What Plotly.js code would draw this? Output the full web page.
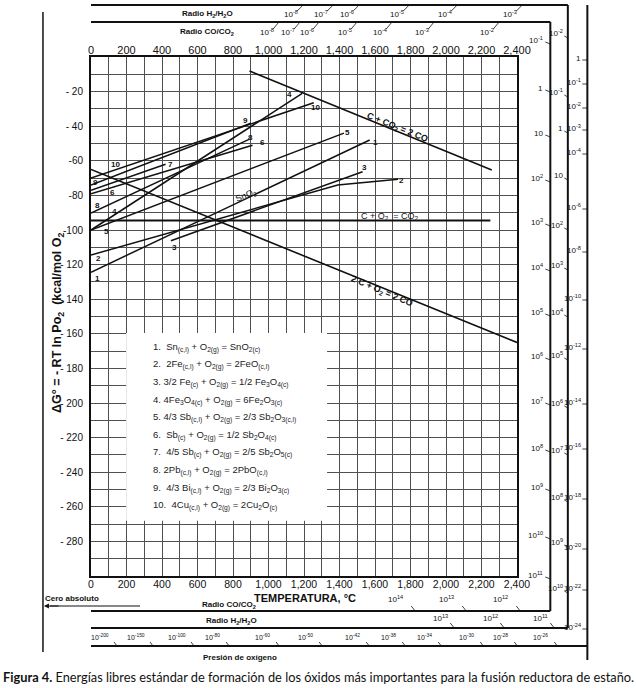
<!DOCTYPE html>
<html>
<head>
<meta charset="utf-8">
<script src="https://cdn.plot.ly/plotly-3.0.1.min.js"></script>
<style>html,body{margin:0;padding:0;background:#fff;}#chart{width:636px;height:688px;}</style>
</head>
<body>
<div id="chart"></div>
<script>
// ---------- DATA (temperature °C, ΔG° kcal/mol O2) ----------
const rxn1T = [0, 1570],        rxn1G = [-124.4, -48];
const rxn2T = [0, 1390, 1730],  rxn2G = [-114.5, -74, -70.7];
const rxn3T = [450, 1530],      rxn3G = [-106.2, -66.3];
const rxn4T = [0, 1190],        rxn4G = [-100, -21];
const rxn5T = [0, 1425],        rxn5G = [-100, -44];
const rxn6T = [0, 910],         rxn6G = [-79, -51];
const rxn7T = [0, 420],         rxn7G = [-77, -62];
const rxn8T = [0, 890],         rxn8G = [-90.2, -47.6];
const rxn9T = [0, 900],         rxn9G = [-74, -38.3];
const rxn10T = [0, 1255],       rxn10G = [-70, -26.4];
const boudT = [893, 2258],      boudG = [-8.1, -65.3];     // C + CO2 = 2 CO
const co2T = [0, 2250],         co2G = [-94.5, -94.5];     // C + O2 = CO2
const coT = [0, 2400],          coG = [-65, -165];         // 2C + O2 = 2 CO

const yTickVals = [-20,-40,-60,-80,-100,-120,-140,-160,-180,-200,-220,-240,-260,-280];
const yTickText = ['- 20','- 40','-60','-80','-100','- 120','- 140','- 160','- 180','- 200','- 220','- 240','- 260','- 280'];

const legendRows = [
 '1.  Sn<sub>(c,l)</sub> + O<sub>2(g)</sub> = SnO<sub>2(c)</sub>',
 '2.  2Fe<sub>(c,l)</sub> + O<sub>2(g)</sub> = 2FeO<sub>(c,l)</sub>',
 '3. 3/2 Fe<sub>(c)</sub> + O<sub>2(g)</sub> = 1/2 Fe<sub>3</sub>O<sub>4(c)</sub>',
 '4. 4Fe<sub>3</sub>O<sub>4(c)</sub> + O<sub>2(g)</sub> = 6Fe<sub>2</sub>O<sub>3(c)</sub>',
 '5. 4/3 Sb<sub>(c,l)</sub> + O<sub>2(g)</sub> = 2/3 Sb<sub>2</sub>O<sub>3(c,l)</sub>',
 '6.  Sb<sub>(c)</sub> + O<sub>2(g)</sub> = 1/2 Sb<sub>2</sub>O<sub>4(c)</sub>',
 '7.  4/5 Sb<sub>(c)</sub> + O<sub>2(g)</sub> = 2/5 Sb<sub>2</sub>O<sub>5(c)</sub>',
 '8. 2Pb<sub>(c,l)</sub> + O<sub>2(g)</sub> = 2PbO<sub>(c,l)</sub>',
 '9.  4/3 Bi<sub>(c,l)</sub> + O<sub>2(g)</sub> = 2/3 Bi<sub>2</sub>O<sub>3(c)</sub>',
 '10.  4Cu<sub>(c,l)</sub> + O<sub>2(g)</sub> = 2Cu<sub>2</sub>O<sub>(c)</sub>'
];

const sup = e => '10<sup>' + e + '</sup>';
const h2TopLabels   = ['-8','-7','-6','-5','-4','-3'].map(sup);
const coTopLabels   = ['-8','-7','-6','-5','-4','-3','-2'].map(sup);
const coRightLabels = [sup('-1'),'1','10',sup('2'),sup('3'),sup('4'),sup('5'),sup('6'),sup('7'),sup('8'),sup('9'),sup('10'),sup('11')];
const h2RightLabels = [sup('-2'),sup('-1'),'1','10',sup('2'),sup('3'),sup('4'),sup('5'),sup('6'),sup('7'),sup('8'),sup('9'),sup('10')];
const o2RightLabels = ['1',sup('-1'),sup('-2'),sup('-3'),sup('-4'),sup('-6'),sup('-8'),sup('-10'),sup('-12'),sup('-14'),sup('-16'),sup('-18'),sup('-20'),sup('-22'),sup('-24')];
const coBotLabels   = [sup('14'),sup('13'),sup('12')];
const h2BotLabels   = [sup('13'),sup('12'),sup('11')];
const o2BotLabels   = ['-200','-150','-100','-80','-60','-50','-42','-38','-34','-30','-28','-26'].map(sup);

// ---------- LAYOUT POSITIONS (pixels) ----------
const PL = 91, PR = 516.7, PT = 57, PB = 576;
const px = x => (x - PL) / (PR - PL);
const py = y => (PB - y) / (PB - PT);
const FONT = 'Liberation Sans, Arial, sans-serif';

const h2TopX = [291, 321, 347, 397, 445, 510];
const coTopX = [267, 288, 307, 345, 380, 422, 487];
const coRightY = [40, 88, 133, 178, 222, 267, 312, 356, 401, 448, 487, 535, 575];
const h2RightY = [33, 92, 128, 175, 225, 265, 312, 355, 403, 450, 497, 542, 588];
const o2RightY = [58, 82, 106, 128, 152, 207, 250, 298, 347, 402, 447, 497, 547, 588, 627];
const coBotX = [395, 446, 500];
const h2BotX = [440, 490, 540];
const o2BotX = [100, 136, 177, 212, 262, 305, 352, 388, 424, 466, 500, 540];

const annotations = [];
const shapes = [];
function ann(x, y, text, o) {
  annotations.push(Object.assign({xref:'paper', yref:'paper', x:px(x), y:py(y), text:text, showarrow:false,
    xanchor:'center', yanchor:'middle', font:{family:FONT, size:8, color:'#111'}}, o || {}));
}
function seg(x0, y0, x1, y1, w, c) {
  shapes.push({type:'line', xref:'paper', yref:'paper', x0:px(x0), y0:py(y0), x1:px(x1), y1:py(y1),
    line:{color:c || '#111', width:w || 1}});
}

// frame scale lines
seg(43, 12, 43, 652, 1.5);
seg(91, 5, 567.5, 5, 2); seg(567.5, 5, 567.5, 628, 2); seg(91, 628, 567.5, 628, 2);
seg(91, 22, 550, 22, 2); seg(550, 22, 550, 611, 2); seg(91, 611, 550, 611, 2);
seg(587, 5, 587, 660, 2); seg(91, 646, 587, 646, 2);

// scale labels
ann(207, 14, '<b>Radio H<sub>2</sub>/H<sub>2</sub>O</b>');
ann(207, 32, '<b>Radio CO/CO<sub>2</sub></b>');
h2TopLabels.forEach((t, i) => { ann(h2TopX[i], 14, t); seg(h2TopX[i] + 6, 11, h2TopX[i] + 11, 6, 0.8); });
coTopLabels.forEach((t, i) => { ann(coTopX[i], 32, t); seg(coTopX[i] + 6, 29, coTopX[i] + 11, 23, 0.8); });
coRightLabels.forEach((t, i) => { ann(545, coRightY[i], t, {xanchor:'right'}); seg(545, coRightY[i] + 2, 550, coRightY[i] + 4, 0.8); });
h2RightLabels.forEach((t, i) => { ann(565, h2RightY[i], t, {xanchor:'right'}); seg(564, h2RightY[i] + 3, 567.5, h2RightY[i] + 5, 0.8); });
o2RightLabels.forEach((t, i) => { ann(583, o2RightY[i], t, {xanchor:'right'}); seg(582, o2RightY[i] + 2, 587, o2RightY[i] + 2, 0.8); });
ann(229, 605, '<b>Radio CO/CO<sub>2</sub></b>');
ann(231, 621, '<b>Radio H<sub>2</sub>/H<sub>2</sub>O</b>');
coBotLabels.forEach((t, i) => { ann(coBotX[i], 599, t); seg(coBotX[i] + 16, 606, coBotX[i] + 20, 611, 0.8); });
h2BotLabels.forEach((t, i) => { ann(h2BotX[i], 618, t); seg(h2BotX[i] + 10, 623, h2BotX[i] + 14, 628, 0.8); });
o2BotLabels.forEach((t, i) => { ann(o2BotX[i], 637, t, {font:{family:FONT, size:7, color:'#111'}}); seg(o2BotX[i] + 14, 642, o2BotX[i] + 17, 646, 0.8); });
ann(240, 657, '<b>Presión de oxígeno</b>');
ann(305, 598, '<b>TEMPERATURA, °C</b>', {font:{family:FONT, size:11, color:'#111'}});
ann(72, 598, '<b>Cero absoluto</b>');
seg(140, 606, 50, 606, 1);
annotations.push({xref:'paper', yref:'paper', x:px(44), y:py(606), ax:px(60), ay:py(606), axref:'paper', ayref:'paper',
  text:'', showarrow:true, arrowhead:2, arrowsize:1, arrowwidth:1, arrowcolor:'#111'});

// y title
ann(58, 322, '<b>ΔG° = - RT ln Po<sub>2</sub>  (kcal/mol O<sub>2</sub></b>', {textangle:-90, font:{family:FONT, size:12.5, color:'#111'}});

// reaction number labels
const numLabels = [
  ['1',375,142],['2',401,181],['3',364,168],['4',289,94],['5',347,132],['6',262,142],['7',170,164],['8',250,137],['9',245,120],['10',315,107],
  ['10',115,164],['9',95,182],['6',112,192],['8',97,205],['4',114,211],['5',106,232],['2',98,258],['1',97,278],['3',174,247]
];
numLabels.forEach(l => ann(l[1], l[2], '<b>' + l[0] + '</b>', {font:{family:FONT, size:8, color:'#111'}}));

// line labels
ann(397, 127, '<b>C + CO<sub>2</sub> = 2 CO</b>', {textangle:22, font:{family:FONT, size:9, color:'#111'}});
ann(390, 216, 'C + O<sub>2</sub>  = CO<sub>2</sub>', {font:{family:FONT, size:9, color:'#111'}});
ann(382, 291, '<b>2 C + O<sub>2</sub> = 2 CO</b>', {textangle:23, font:{family:FONT, size:9, color:'#111'}});
ann(246, 195, 'SnO<sub>2</sub>', {textangle:-22, font:{family:FONT, size:9, color:'#111'}});

// legend rows
legendRows.forEach((t, i) => ann(151, 347.3 + i * 17.6, t, {xanchor:'left', font:{family:FONT, size:9.5, color:'#222'}}));

// caption
annotations.push({xref:'paper', yref:'paper', x:px(318), y:py(677), xanchor:'center', yanchor:'middle', showarrow:false,
  text:'<b>Figura 4.</b> Energías libres estándar de formación de los óxidos más importantes para la fusión reductora de estaño.',
  font:{family:'Lato, Noto Sans, sans-serif', size:12.8, color:'#111'}});

// white legend box (data coords)
shapes.push({type:'rect', xref:'x', yref:'y', x0:198, x1:1330, y0:-268, y1:-159.5, fillcolor:'#fff', line:{width:0}, layer:'between'});

const mk = (x, y, w) => ({x:x, y:y, type:'scatter', mode:'lines', line:{color:'#111', width:w || 1.5}, hoverinfo:'skip', showlegend:false});
const traces = [
  mk(rxn1T, rxn1G), mk(rxn2T, rxn2G), mk(rxn3T, rxn3G), mk(rxn4T, rxn4G), mk(rxn5T, rxn5G),
  mk(rxn6T, rxn6G), mk(rxn7T, rxn7G), mk(rxn8T, rxn8G), mk(rxn9T, rxn9G), mk(rxn10T, rxn10G),
  mk(boudT, boudG, 1.6), mk(co2T, co2G, 1.8), mk(coT, coG, 1.6),
  {x:[0], y:[-300], xaxis:'x2', yaxis:'y', type:'scatter', mode:'markers', marker:{opacity:0}, hoverinfo:'skip', showlegend:false}
];

const GRID = '#505050';
const layout = {
  width:636, height:688,
  margin:{l:PL, r:636-PR, t:PT, b:688-PB, pad:0},
  paper_bgcolor:'#fff', plot_bgcolor:'#fff',
  showlegend:false,
  font:{family:FONT, color:'#111'},
  xaxis:{range:[0,2400], tickmode:'linear', tick0:0, dtick:200, tickformat:',', showgrid:true, gridcolor:GRID, gridwidth:1,
    minor:{tickmode:'linear', tick0:0, dtick:100, showgrid:true, gridcolor:GRID, gridwidth:1, ticks:''},
    ticks:'', ticklabelstandoff:-3, showline:true, linecolor:'#111', linewidth:2, mirror:true, zeroline:false,
    tickfont:{family:FONT, size:10.5, color:'#111'}, fixedrange:true},
  xaxis2:{range:[0,2400], overlaying:'x', side:'top', tickmode:'linear', tick0:0, dtick:200, tickformat:',', showgrid:false,
    ticks:'', showline:false, zeroline:false, tickfont:{family:FONT, size:11, color:'#111'}, fixedrange:true},
  yaxis:{range:[-300,0], tickmode:'array', tickvals:yTickVals, ticktext:yTickText, showgrid:true, gridcolor:GRID, gridwidth:1,
    minor:{tickmode:'linear', tick0:0, dtick:10, showgrid:true, gridcolor:GRID, gridwidth:1, ticks:''},
    ticks:'', ticklabelstandoff:4, showline:true, linecolor:'#111', linewidth:2, mirror:true, zeroline:false,
    tickfont:{family:FONT, size:10, color:'#111'}, fixedrange:true},
  annotations:annotations,
  shapes:shapes
};
Plotly.newPlot('chart', traces, layout, {staticPlot:true, displayModeBar:false});
</script>
</body>
</html>
